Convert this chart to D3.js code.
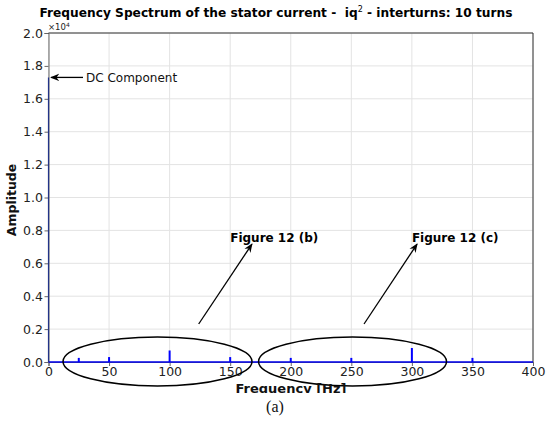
<!DOCTYPE html>
<html><head><meta charset="utf-8">
<script src="https://cdn.jsdelivr.net/npm/d3@7"></script>
<style>body{margin:0;background:#fff}svg{display:block}</style>
</head><body>
<svg id="c" width="550" height="421"></svg>
<script>
const frequencies = [0, 25, 50, 100, 150, 200, 250, 300, 350];
const amplitudes = [17300, 250, 300, 700, 300, 250, 250, 850, 250];
const xTicks = [0, 50, 100, 150, 200, 250, 300, 350, 400];
const yTicks = [0, 2000, 4000, 6000, 8000, 10000, 12000, 14000, 16000, 18000, 20000];
const titleText = "Frequency Spectrum of the stator current -\u00a0 iq";
const titleText2 = " - interturns: 10 turns";

const svg = d3.select("#c");
const L = 48.5, R = 533, T = 33, B = 362;
const x = d3.scaleLinear().domain([0, 400]).range([L, R]);
const y = d3.scaleLinear().domain([0, 20000]).range([B, T]);
const font = "DejaVu Sans, sans-serif";

// grid
svg.append("g").selectAll("line").data(xTicks).join("line")
  .attr("x1", d => x(d)).attr("x2", d => x(d)).attr("y1", T).attr("y2", B)
  .attr("stroke", "#e3e3e3").attr("stroke-width", 1);
svg.append("g").selectAll("line").data(yTicks).join("line")
  .attr("x1", L).attr("x2", R).attr("y1", d => y(d)).attr("y2", d => y(d))
  .attr("stroke", "#e3e3e3").attr("stroke-width", 1);

// axes
const xa = svg.append("g").attr("transform", `translate(0,${B})`)
  .call(d3.axisBottom(x).tickValues(xTicks).tickFormat(d3.format("d")).tickSizeOuter(0).tickSize(4).tickPadding(1));
const ya = svg.append("g").attr("transform", `translate(${L},0)`)
  .call(d3.axisLeft(y).tickValues(yTicks).tickFormat(d => (d / 10000).toFixed(1)).tickSizeOuter(0).tickSize(4).tickPadding(1.5));
[xa, ya].forEach(a => {
  a.select(".domain").attr("stroke", "#666");
  a.selectAll(".tick line").attr("stroke", "#666");
  a.selectAll("text").attr("font-family", font).attr("font-size", 12.5).attr("fill", "#222");
});

// frame top/right
svg.append("line").attr("x1", L).attr("x2", R).attr("y1", T).attr("y2", T).attr("stroke", "#333");
svg.append("line").attr("x1", R).attr("x2", R).attr("y1", T).attr("y2", B).attr("stroke", "#333");

// spectrum
svg.append("line").attr("x1", x(0)).attr("x2", x(400)).attr("y1", y(0)).attr("y2", y(0))
  .attr("stroke", "#0000ee").attr("stroke-width", 1.5);
svg.append("g").selectAll("line").data(frequencies.map((f, i) => ({f, a: amplitudes[i]}))).join("line")
  .attr("x1", d => x(d.f)).attr("x2", d => x(d.f)).attr("y1", y(0)).attr("y2", d => y(d.a))
  .attr("stroke", (d, i) => i === 0 ? "#223388" : "#0000ff").attr("stroke-width", (d, i) => i === 0 ? 1.2 : 2);

// arrow marker
const defs = svg.append("defs");
defs.append("marker").attr("id", "ah").attr("viewBox", "0 0 10 10").attr("refX", 9).attr("refY", 5)
  .attr("markerWidth", 7).attr("markerHeight", 7).attr("orient", "auto-start-reverse")
  .append("path").attr("d", "M0,1 L10,5 L0,9 L3,5 Z").attr("fill", "#000");

// ellipses
svg.append("ellipse").attr("cx", x(90)).attr("cy", 361.5).attr("rx", 94.5).attr("ry", 24.5)
  .attr("fill", "none").attr("stroke", "#000").attr("stroke-width", 1.5);
svg.append("ellipse").attr("cx", x(251)).attr("cy", 361.5).attr("rx", 94).attr("ry", 24.5)
  .attr("fill", "none").attr("stroke", "#000").attr("stroke-width", 1.5);

// annotation arrows
function arrow(x1, y1, x2, y2) {
  svg.append("line").attr("x1", x1).attr("y1", y1).attr("x2", x2).attr("y2", y2)
    .attr("stroke", "#000").attr("stroke-width", 1.3).attr("marker-end", "url(#ah)");
}
arrow(x(124), y(2310), x(168), y(7170));
arrow(x(260.5), y(2310), x(304.3), y(7170));
arrow(83, y(17300), 51, y(17300));

svg.append("text").attr("x", x(150)).attr("y", 242).attr("font-family", font).attr("font-weight", "bold")
  .attr("font-size", 12).attr("fill", "#000").text("Figure 12 (b)");
svg.append("text").attr("x", x(300)).attr("y", 242).attr("font-family", font).attr("font-weight", "bold")
  .attr("font-size", 12).attr("fill", "#000").text("Figure 12 (c)");
svg.append("text").attr("x", 86).attr("y", 81.5).attr("font-family", font)
  .attr("font-size", 12).attr("fill", "#111").text("DC Component");

// exponent
const ex = svg.append("text").attr("x", 48).attr("y", 30).attr("font-family", font).attr("font-size", 8.5).attr("fill", "#222");
ex.append("tspan").text("×10");
ex.append("tspan").attr("dy", -3).attr("font-size", 6).text("4");

// title
const t = svg.append("text").attr("x", 276).attr("y", 17).attr("text-anchor", "middle")
  .attr("font-family", font).attr("font-weight", "bold").attr("font-size", 12.2).attr("fill", "#000");
t.append("tspan").text(titleText);
t.append("tspan").attr("dy", -5).attr("font-size", 8).attr("font-weight", "normal").text("2");
t.append("tspan").attr("dy", 5).text(titleText2);

// axis labels
defs.append("clipPath").attr("id", "xlc").append("rect").attr("x", 0).attr("y", 0).attr("width", 550).attr("height", 393);
svg.append("text").attr("x", 291).attr("y", 393).attr("text-anchor", "middle").attr("clip-path", "url(#xlc)")
  .attr("font-family", font).attr("font-weight", "bold").attr("font-size", 13).attr("fill", "#111").text("Frequency [Hz]");
svg.append("text").attr("transform", "translate(16,200) rotate(-90)").attr("text-anchor", "middle")
  .attr("font-family", font).attr("font-weight", "bold").attr("font-size", 12.5).attr("fill", "#111").text("Amplitude");
svg.append("text").attr("x", 275).attr("y", 412).attr("text-anchor", "middle")
  .attr("font-family", "Liberation Serif, serif").attr("font-size", 16).attr("fill", "#111").text("(a)");
</script>
</body></html>
